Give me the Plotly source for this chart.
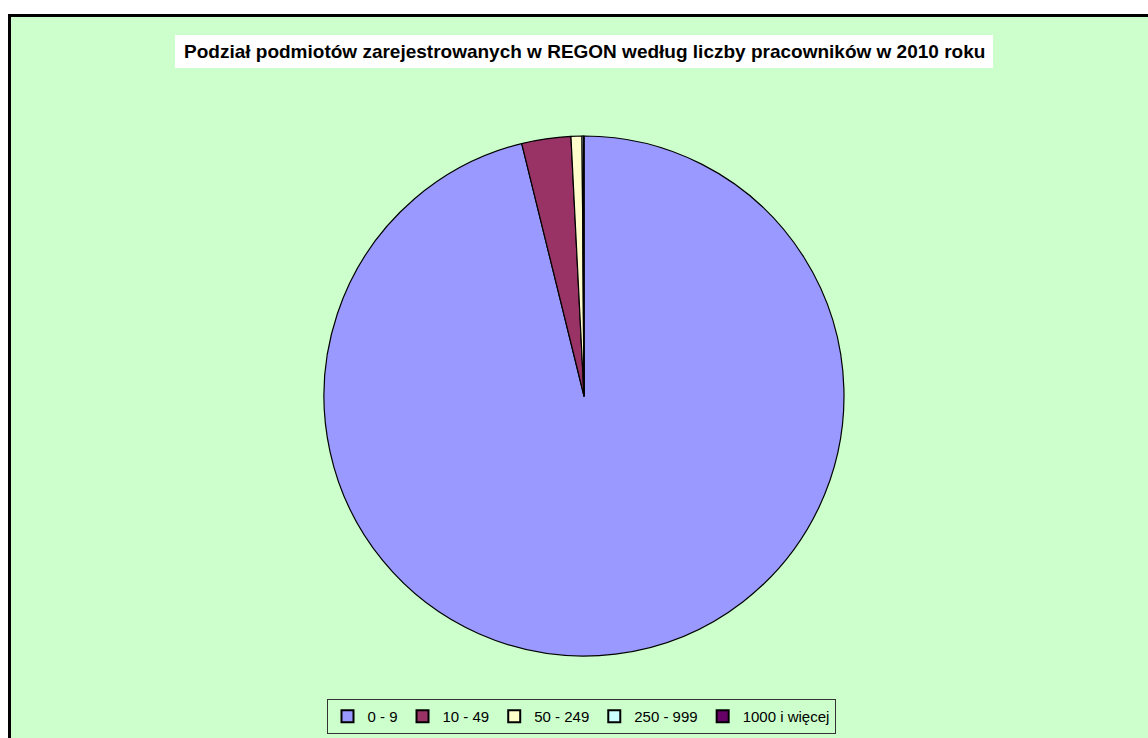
import plotly.graph_objects as go

W, H = 1148, 738

# Employment size classes and share of registered entities (%)
categories = ["0 - 9", "10 - 49", "50 - 249", "250 - 999", "1000 i więcej"]
shares = [96.15, 3.05, 0.68, 0.10, 0.02]
colors = ["#9999FF", "#993366", "#FFFFCC", "#CCFFFF", "#660066"]

title_text = "Podział podmiotów zarejestrowanych w REGON według liczby pracowników w 2010 roku"


def px_x(v):
    return v / W


def px_y(v):
    return 1 - v / H


cx, cy, r = 584, 396, 260

fig = go.Figure(
    go.Pie(
        labels=categories,
        values=shares,
        sort=False,
        direction="clockwise",
        rotation=0,
        marker=dict(colors=colors, line=dict(color="black", width=1.2)),
        textinfo="none",
        hoverinfo="label+percent",
        domain=dict(x=[px_x(cx - 300), px_x(cx + 300)],
                    y=[px_y(cy + r), px_y(cy - r)]),
    )
)

# chart area: pale green panel with heavy black frame
fig.add_shape(type="rect", xref="paper", yref="paper",
              x0=px_x(9.5), x1=px_x(W + 20), y0=px_y(H + 20), y1=px_y(15.5),
              fillcolor="#CCFFCC", line=dict(color="black", width=3), layer="below")

# title on a white box
fig.add_shape(type="rect", xref="paper", yref="paper",
              x0=px_x(175), x1=px_x(993), y0=px_y(68), y1=px_y(35),
              fillcolor="white", line=dict(width=0), layer="below")
fig.add_annotation(text="<b>" + title_text + "</b>", xref="paper", yref="paper",
                   x=px_x(584), y=px_y(51.5), xanchor="center", yanchor="middle",
                   showarrow=False,
                   font=dict(family="Liberation Sans, Arial", size=19, color="black"))

fig.update_layout(
    width=W, height=H,
    margin=dict(l=0, r=0, t=0, b=0),
    paper_bgcolor="white",
    plot_bgcolor="white",
    showlegend=True,
    legend=dict(
        orientation="h",
        x=px_x(581), xanchor="center",
        y=px_y(734), yanchor="bottom",
        bgcolor="#CCFFCC", bordercolor="#333333", borderwidth=1,
        font=dict(family="Liberation Sans, Arial", size=15, color="black"),
        itemsizing="constant",
        traceorder="normal",
    ),
)

fig.write_html("out.html")
